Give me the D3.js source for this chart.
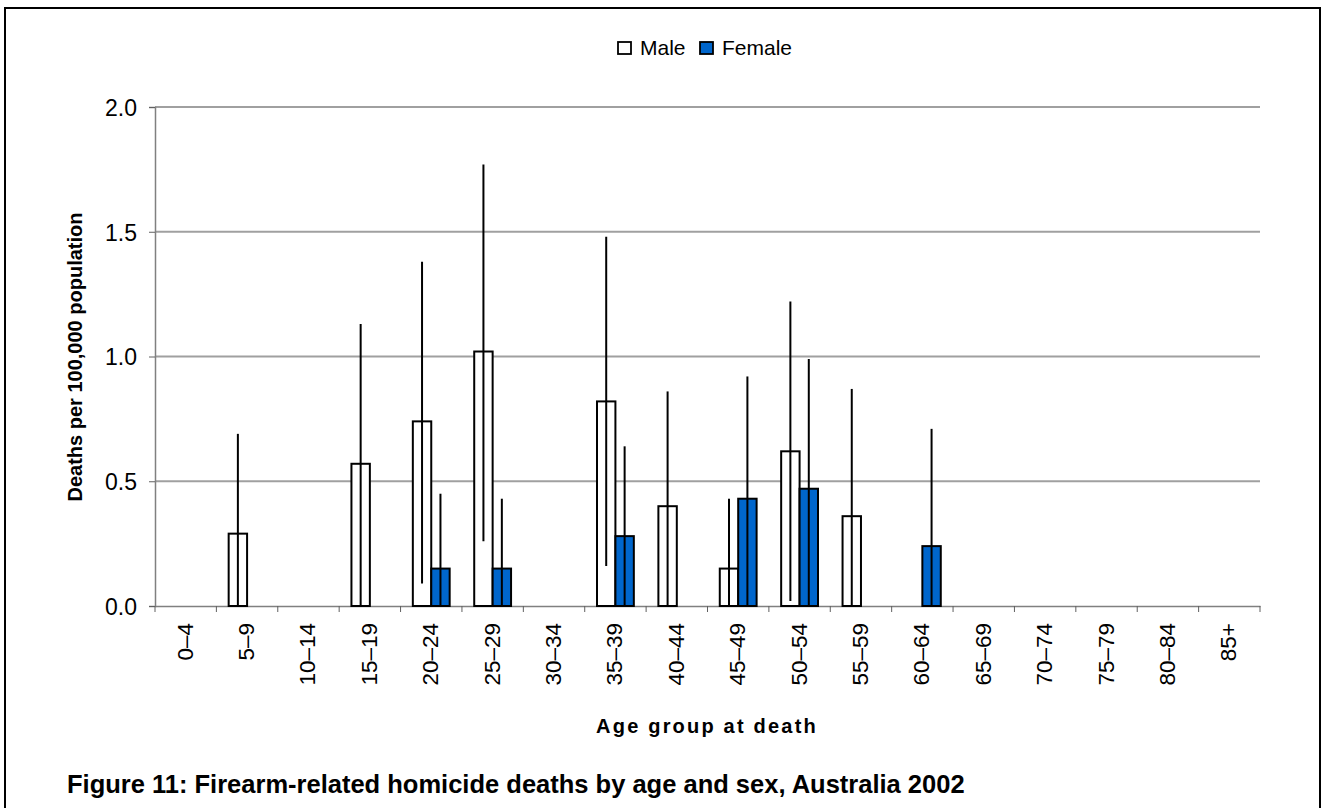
<!DOCTYPE html>
<html><head><meta charset="utf-8">
<script src="https://cdn.jsdelivr.net/npm/d3@7"></script>
<style>body{margin:0;background:#fff;} text{font-family:"Liberation Sans",Arial,sans-serif;}</style>
</head><body>
<svg id="c" width="1322" height="808"></svg>
<script>
const categories = ["0–4","5–9","10–14","15–19","20–24","25–29","30–34","35–39","40–44","45–49","50–54","55–59","60–64","65–69","70–74","75–79","80–84","85+"];
const maleValues = [0,0.29,0,0.57,0.74,1.02,0,0.82,0.40,0.15,0.62,0.36,0,0,0,0,0,0];
const maleLow    = [0,0,0,0,0.09,0.26,0,0.16,0,0,0.02,0,0,0,0,0,0,0];
const maleHigh   = [0,0.69,0,1.13,1.38,1.77,0,1.48,0.86,0.43,1.22,0.87,0,0,0,0,0,0];
const femaleValues = [0,0,0,0,0.15,0.15,0,0.28,0,0.43,0.47,0,0.24,0,0,0,0,0];
const femaleLow    = [0,0,0,0,0,0,0,0,0,0,0,0,0,0,0,0,0,0];
const femaleHigh   = [0,0,0,0,0.45,0.43,0,0.64,0,0.92,0.99,0,0.71,0,0,0,0,0];
const yTicks = [0,0.5,1.0,1.5,2.0];
const seriesNames = ["Male","Female"];

const svg = d3.select("#c");
const mLeft = 155, mRight = 1260, mTop = 107, mBottom = 606;

// frame
svg.append("rect").attr("x",5).attr("y",8).attr("width",1315).attr("height",820)
  .attr("fill","none").attr("stroke","#000").attr("stroke-width",2);

const x = d3.scaleBand().domain(categories).range([mLeft,mRight]).paddingInner(0).paddingOuter(0);
const y = d3.scaleLinear().domain([0,2]).range([mBottom,mTop]);
const barW = x.bandwidth()*0.3;

// grid
svg.append("g").selectAll("line").data(yTicks.filter(d=>d>0)).join("line")
  .attr("x1",mLeft).attr("x2",mRight).attr("y1",d=>y(d)).attr("y2",d=>y(d))
  .attr("stroke","#a0a0a0").attr("stroke-width",2);

// y axis
const yAxis = svg.append("g").attr("transform",`translate(${mLeft},0)`)
  .call(d3.axisLeft(y).tickValues(yTicks).tickFormat(d3.format(".1f")).tickSize(6).tickPadding(12));
yAxis.select(".domain").attr("stroke","#808080").attr("stroke-width",1.5);
yAxis.selectAll(".tick line").attr("stroke","#606060");
yAxis.selectAll("text").attr("font-size",23).attr("fill","#000").attr("dy","0.36em")
  .attr("font-family","Liberation Sans, Arial, sans-serif");

// x axis
const xAxis = svg.append("g").attr("transform",`translate(0,${mBottom})`)
  .call(d3.axisBottom(x).tickSize(0).tickFormat(""));
xAxis.select(".domain").attr("stroke","#808080").attr("stroke-width",1.5);
const edges = categories.map(c=>x(c)).concat([mRight]);
svg.append("g").selectAll("line").data(edges).join("line")
  .attr("x1",d=>d).attr("x2",d=>d).attr("y1",mBottom).attr("y2",mBottom+6)
  .attr("stroke","#606060").attr("stroke-width",1);
svg.append("g").selectAll("text").data(categories).join("text")
  .attr("transform",d=>`translate(${x(d)+x.bandwidth()/2+7},623) rotate(-90)`)
  .attr("text-anchor","end").attr("font-size",22.5).text(d=>d);

// bars
const cx = (c,i)=> x(c)+x.bandwidth()/2 + (i===0?-barW:0);
function drawSeries(vals, i, fill){
  svg.append("g").selectAll("rect").data(categories.map((c,k)=>({c,v:vals[k]})).filter(d=>d.v>0)).join("rect")
    .attr("x",d=>cx(d.c,i)).attr("width",barW)
    .attr("y",d=>y(d.v)).attr("height",d=>y(0)-y(d.v))
    .attr("fill",fill).attr("stroke","#000").attr("stroke-width",2);
}
drawSeries(maleValues,0,"#fff");
drawSeries(femaleValues,1,"#0066CC");
function drawErr(vals,lo,hi,i){
  svg.append("g").selectAll("line").data(categories.map((c,k)=>({c,v:vals[k],lo:lo[k],hi:hi[k]})).filter(d=>d.hi>0)).join("line")
    .attr("x1",d=>cx(d.c,i)+barW/2).attr("x2",d=>cx(d.c,i)+barW/2)
    .attr("y1",d=>y(d.lo)).attr("y2",d=>y(d.hi))
    .attr("stroke","#000").attr("stroke-width",2);
}
drawErr(maleValues,maleLow,maleHigh,0);
drawErr(femaleValues,femaleLow,femaleHigh,1);

// legend
const lg = svg.append("g");
const legendItems = [{n:seriesNames[0],f:"#fff",x:618},{n:seriesNames[1],f:"#0066CC",x:700}];
legendItems.forEach(d=>{
  lg.append("rect").attr("x",d.x).attr("y",42).attr("width",13).attr("height",12)
    .attr("fill",d.f).attr("stroke","#000").attr("stroke-width",1.8);
  lg.append("text").attr("x",d.x+22).attr("y",55).attr("font-size",21).text(d.n);
});

// axis titles
svg.append("text").attr("transform","translate(82,357) rotate(-90)").attr("text-anchor","middle")
  .attr("font-size",20).attr("font-weight","bold").text("Deaths per 100,000 population");
svg.append("text").attr("x",707).attr("y",733).attr("text-anchor","middle")
  .attr("font-size",20).attr("font-weight","bold").attr("letter-spacing",2.2).text("Age group at death");

// figure title
svg.append("text").attr("x",67).attr("y",793).attr("font-size",25.5).attr("font-weight","bold")
  .text("Figure 11: Firearm-related homicide deaths by age and sex, Australia 2002");
</script>
</body></html>
